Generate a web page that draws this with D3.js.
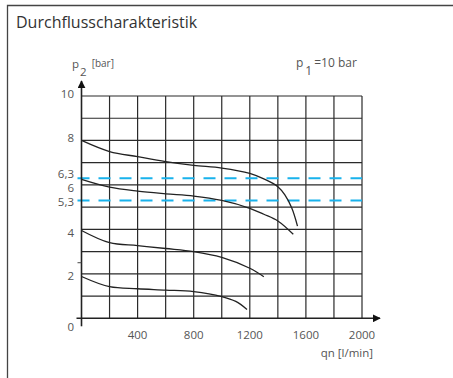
<!DOCTYPE html>
<html>
<head>
<meta charset="utf-8">
<script src="https://cdn.jsdelivr.net/npm/d3@7"></script>
<style>
  body { margin: 0; background: #fff; }
  svg text { font-family: "Open Sans", sans-serif; fill: #555; }
</style>
</head>
<body>
<div id="chart"></div>
<script>
// flow characteristic, p2 [bar] over qn [l/min], p1 = 10 bar
const curve8 = [[0, 8.0], [200, 7.5], [400, 7.27], [600, 7.05], [800, 6.88], [1000, 6.76], [1200, 6.52], [1300, 6.27], [1400, 5.92], [1450, 5.55], [1500, 4.95], [1540, 4.15]];
const curve6 = [[0, 6.25], [200, 5.9], [400, 5.72], [600, 5.6], [800, 5.5], [1000, 5.3], [1200, 4.95], [1300, 4.68], [1400, 4.38], [1510, 3.78]];
const curve4 = [[0, 3.95], [200, 3.4], [400, 3.27], [600, 3.14], [800, 3.0], [1000, 2.74], [1200, 2.25], [1300, 1.87]];
const curve2 = [[0, 1.88], [200, 1.42], [400, 1.33], [600, 1.27], [800, 1.2], [1000, 0.98], [1100, 0.76], [1180, 0.4]];
const curves = [curve8, curve6, curve4, curve2];

const limits = [6.3, 5.3];
const yLabels = [
  { v: 10, t: "10", dy: -2 },
  { v: 8, t: "8", dy: -2 },
  { v: 6.3, t: "6,3", dy: -4 },
  { v: 6, t: "6", dy: 3 },
  { v: 5.3, t: "5,3", dy: 1 },
  { v: 4, t: "4", dy: 4 },
  { v: 2, t: "2", dy: 2 },
  { v: 0, t: "0", dy: 9 }
];
const xLabels = [400, 800, 1200, 1600, 2000];

const W = 453, H = 378;
const svg = d3.select("#chart").append("svg")
  .attr("width", W)
  .attr("height", H);

// frame
svg.append("path")
  .attr("d", `M7.5,${H} V5.5 H${W}`)
  .attr("fill", "none")
  .attr("stroke", "#444")
  .attr("stroke-width", 1.3);

svg.append("text")
  .attr("x", 16).attr("y", 28)
  .style("font-size", "16px")
  .style("fill", "#333")
  .text("Durchflusscharakteristik");

const x = d3.scaleLinear().domain([0, 2000]).range([81.5, 362]);
const y = d3.scaleLinear().domain([0, 10]).range([318.3, 96]);

const g = svg.append("g");

// grid
g.selectAll(".vgrid")
  .data(d3.range(200, 2001, 200))
  .join("line")
  .attr("class", "vgrid")
  .attr("x1", d => x(d)).attr("x2", d => x(d))
  .attr("y1", y(0)).attr("y2", y(10))
  .attr("stroke", "#2a2a2a")
  .attr("stroke-width", 1.2);

g.selectAll(".hgrid")
  .data(d3.range(1, 11))
  .join("line")
  .attr("class", "hgrid")
  .attr("x1", x(0)).attr("x2", x(2000))
  .attr("y1", d => y(d)).attr("y2", d => y(d))
  .attr("stroke", "#2a2a2a")
  .attr("stroke-width", 1.2);

// dashed limit lines
g.selectAll(".limit")
  .data(limits)
  .join("line")
  .attr("class", "limit")
  .attr("x1", x(0) - 4).attr("x2", x(2000))
  .attr("y1", d => y(d)).attr("y2", d => y(d))
  .attr("stroke", "#19b2ec")
  .attr("stroke-width", 2)
  .attr("stroke-dasharray", "12,9");

// axes with arrows
svg.append("defs").append("marker")
  .attr("id", "arrow")
  .attr("viewBox", "0 0 10 10")
  .attr("refX", 9).attr("refY", 5)
  .attr("markerWidth", 8).attr("markerHeight", 8)
  .attr("markerUnits", "userSpaceOnUse")
  .attr("orient", "auto")
  .append("path")
  .attr("d", "M0,0 L10,5 L0,10 Z")
  .attr("fill", "#111");

g.append("line")
  .attr("x1", x(0)).attr("x2", x(0))
  .attr("y1", y(0) + 8).attr("y2", 81)
  .attr("stroke", "#222").attr("stroke-width", 1.6)
  .attr("marker-end", "url(#arrow)");

g.append("line")
  .attr("x1", x(0) - 5).attr("x2", 380)
  .attr("y1", y(0)).attr("y2", y(0))
  .attr("stroke", "#222").attr("stroke-width", 1.6)
  .attr("marker-end", "url(#arrow)");

// small tick on the y axis
g.append("line")
  .attr("x1", x(0) - 4).attr("x2", x(0))
  .attr("y1", y(2.5)).attr("y2", y(2.5))
  .attr("stroke", "#444").attr("stroke-width", 1);

// curves
const line = d3.line()
  .x(d => x(d[0]))
  .y(d => y(d[1]))
  .curve(d3.curveCatmullRom.alpha(0.5));

g.selectAll(".curve")
  .data(curves)
  .join("path")
  .attr("class", "curve")
  .attr("d", line)
  .attr("fill", "none")
  .attr("stroke", "#222")
  .attr("stroke-width", 1.3);

// labels
g.selectAll(".ylab")
  .data(yLabels)
  .join("text")
  .attr("class", "ylab")
  .attr("x", 74)
  .attr("y", d => y(d.v) + d.dy)
  .attr("dy", "0.35em")
  .attr("text-anchor", "end")
  .style("font-size", "11.5px")
  .text(d => d.t);

g.selectAll(".xlab")
  .data(xLabels)
  .join("text")
  .attr("class", "xlab")
  .attr("x", d => x(d))
  .attr("y", 339)
  .attr("text-anchor", "middle")
  .style("font-size", "11.5px")
  .text(d => d);

g.append("text")
  .attr("x", 373).attr("y", 357)
  .attr("text-anchor", "end")
  .style("font-size", "11.5px")
  .text("qn [l/min]");

const p2 = g.append("text").attr("x", 72).attr("y", 68).style("font-size", "11.5px");
p2.append("tspan").text("p");
p2.append("tspan").attr("dy", 8).attr("dx", 1).text("2");
p2.append("tspan").attr("dy", -9).attr("dx", 5).style("font-size", "10px").text("[bar]");

const p1 = g.append("text").attr("x", 296).attr("y", 67).style("font-size", "12px");
p1.append("tspan").text("p");
p1.append("tspan").attr("dy", 8).attr("dx", 2).text("1");
p1.append("tspan").attr("dy", -8).attr("dx", 2).text("=10 bar");
</script>
</body>
</html>
